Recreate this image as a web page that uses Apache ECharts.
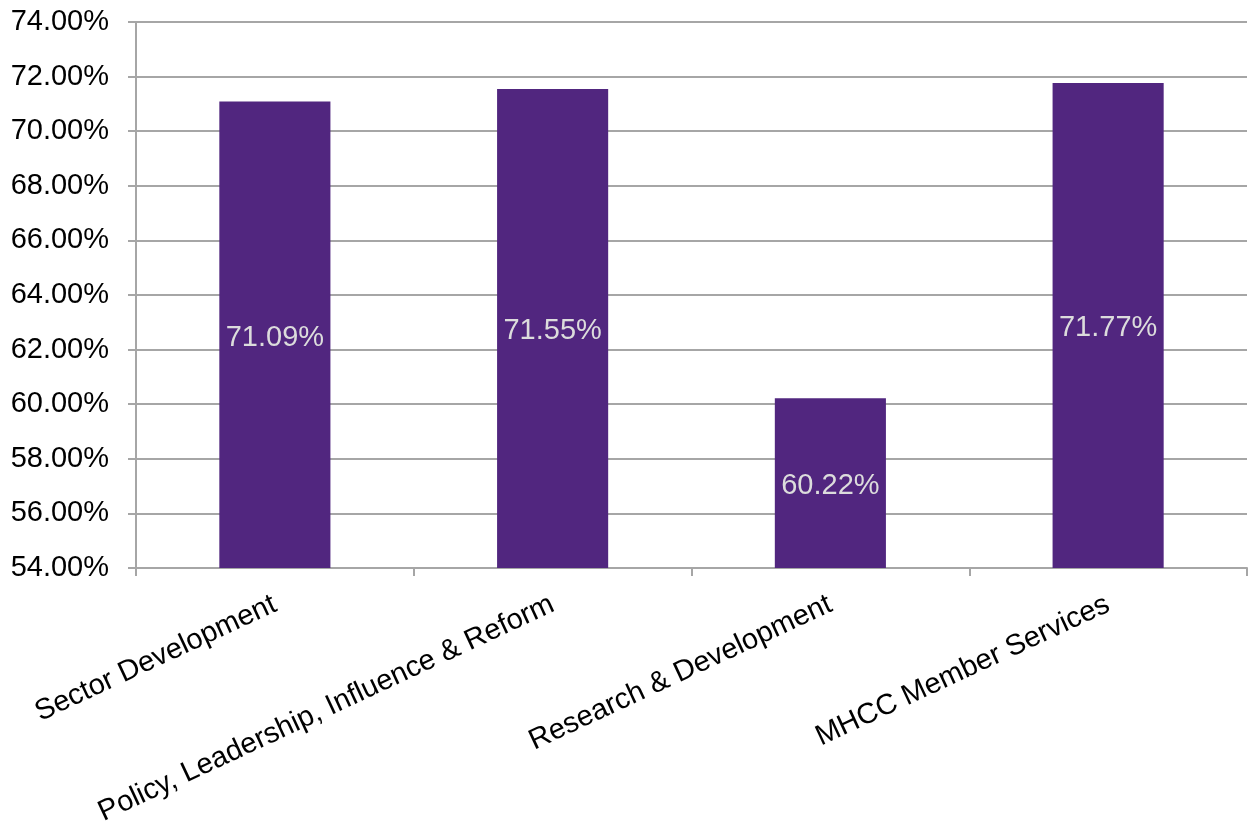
<!DOCTYPE html>
<html>
<head>
<meta charset="utf-8">
<style>
  html, body { margin: 0; padding: 0; background: #ffffff; }
  #chart { width: 1253px; height: 829px; }
</style>
<script src="https://cdn.jsdelivr.net/npm/echarts@6/dist/echarts.min.js"></script>
</head>
<body>
<div id="chart"></div>
<script>
// Survey scores by service area (percent)
const categories = [
  'Sector Development',
  'Policy, Leadership, Influence & Reform',
  'Research & Development',
  'MHCC Member Services'
];
const scores = [71.09, 71.55, 60.22, 71.77];

const axisMin = 54;
const axisMax = 74;
const axisStep = 2;

const chart = echarts.init(document.getElementById('chart'));
const lineColor = '#a6a6a6';
const font = "'Liberation Sans', Arial, sans-serif";

chart.setOption({
  animation: false,
  grid: { left: 136, right: 6, top: 22, bottom: 261, containLabel: false },
  xAxis: {
    type: 'category',
    data: categories,
    boundaryGap: true,
    axisLine: { lineStyle: { color: lineColor, width: 2 } },
    axisTick: { show: true, length: 8, lineStyle: { color: lineColor, width: 2 } },
    axisLabel: {
      rotate: 25,
      interval: 0,
      margin: 35,
      color: '#000000',
      fontFamily: font,
      fontSize: 29
    }
  },
  yAxis: {
    type: 'value',
    min: axisMin,
    max: axisMax,
    interval: axisStep,
    axisLine: { show: true, lineStyle: { color: lineColor, width: 2 } },
    axisTick: { show: true, length: 8, lineStyle: { color: lineColor, width: 2 } },
    splitLine: { show: true, lineStyle: { color: lineColor, width: 2 } },
    axisLabel: {
      margin: 27,
      color: '#000000',
      fontFamily: font,
      fontSize: 29,
      formatter: v => v.toFixed(2) + '%'
    }
  },
  series: [{
    type: 'bar',
    data: scores,
    barWidth: '40%',
    clip: true,
    itemStyle: { color: '#51267f' },
    label: {
      show: true,
      position: 'inside',
      offset: [0, 3],
      color: '#dcdcdc',
      fontFamily: font,
      fontSize: 29,
      formatter: p => p.value.toFixed(2) + '%'
    }
  }]
});
</script>
</body>
</html>
